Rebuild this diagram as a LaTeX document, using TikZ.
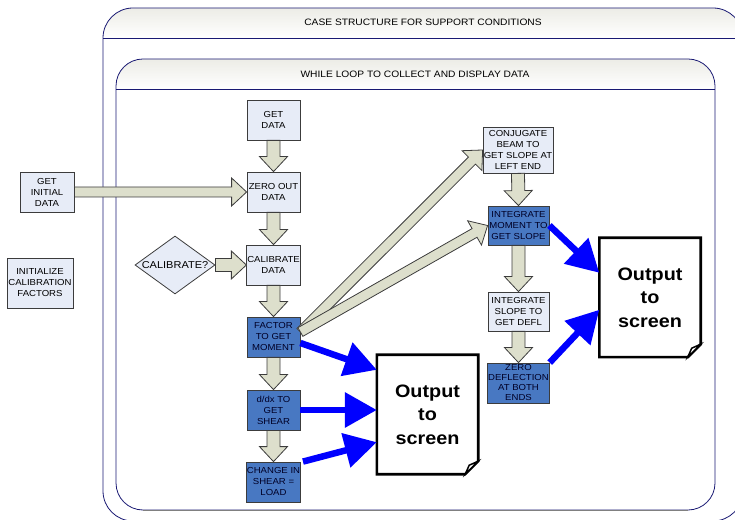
\documentclass[tikz,border=0pt]{standalone}
\usepackage{fontspec}
\setmainfont[FakeStretch=1.1]{Liberation Sans}
\usetikzlibrary{shapes.geometric,arrows.meta,calc}

\definecolor{boxlight}{RGB}{231,236,247}
\definecolor{boxdark}{RGB}{72,120,194}
\definecolor{boxline}{RGB}{60,60,60}
\definecolor{arrowfill}{RGB}{221,223,204}
\definecolor{framenavy}{RGB}{25,25,115}
\definecolor{headgray}{RGB}{236,236,230}

% fat hollow arrow from #2 to #3, #1 = half width of the shaft
\newcommand{\fatarrow}[3][6.5]{%
  \path[fatarrow] let \p1=(#2), \p2=(#3),
    \n1={atan2(\y2-\y1,\x2-\x1)}, \n2={veclen(\x2-\x1,\y2-\y1)} in
    [shift={(\p1)}, rotate=\n1]
    (0,-#1) -- ({\n2-15},-#1) -- ({\n2-15},-14) -- (\n2,0)
    -- ({\n2-15},14) -- ({\n2-15},#1) -- (0,#1) -- cycle;}

\begin{document}
\begin{tikzpicture}[x=1pt,y=1pt,
    lightbox/.style={draw=boxline, fill=boxlight, line width=0.8pt,
      minimum width=53pt, minimum height=40pt, inner sep=0.5pt, align=center,
      font=\fontsize{8.7}{11}\selectfont},
    darkbox/.style={lightbox, fill=boxdark, text=black!85!blue},
    decision/.style={diamond, draw=boxline, fill=boxlight, line width=0.8pt,
      minimum width=80pt, minimum height=58pt, inner sep=0pt},
    screenbox/.style={minimum width=101pt, minimum height=119pt, align=center,
      font=\bfseries\fontsize{18}{23.5}\selectfont},
    screenline/.style={draw=black, line width=2.6pt, line join=miter},
    fatarrow/.style={draw=boxline, fill=arrowfill, line width=0.8pt},
    outarrow/.style={draw=blue, line width=6.5pt, -{Triangle[length=32pt,width=34pt]}},
    frame/.style={draw=framenavy, line width=0.8pt},
    frametitle/.style={font=\fontsize{9.3}{11}\selectfont}]

  \useasboundingbox (0,0) rectangle (735,519);

  % case structure and while loop frames
  \begin{scope}
    \clip (0,0) rectangle (735,519);
    \shade[top color=headgray, bottom color=white] (103,481)
      arc[start angle=180, end angle=90, radius=30] -- (713,511)
      arc[start angle=90, end angle=0, radius=30] -- cycle;
    \draw[frame, rounded corners=30pt] (103,-2) rectangle (743,511);
    \draw[frame] (103,481) -- (743,481);
    \shade[top color=headgray, bottom color=white] (116,430) -- (116,433)
      arc[start angle=180, end angle=90, radius=27] -- (688,460)
      arc[start angle=90, end angle=0, radius=27] -- (715,430) -- cycle;
    \draw[frame, rounded corners=27pt] (116,9) rectangle (715,460);
    \draw[frame] (116,430) -- (715,430);
    \draw[gray, line width=1pt] (143,9) -- (688,9);
  \end{scope}
  \node[frametitle] (casetitle) at (423,497) {CASE STRUCTURE FOR SUPPORT CONDITIONS};
  \node[frametitle] (looptitle) at (415,445) {WHILE LOOP TO COLLECT AND DISPLAY DATA};

  % left column
  \node[lightbox] (getdata) at (273.5,399) {GET\\DATA};
  \node[lightbox] (zeroout) at (273.5,327) {ZERO OUT\\DATA};
  \node[lightbox] (calibrate) at (273.5,254) {CALIBRATE\\DATA};
  \node[darkbox] (moment) at (273.5,182) {FACTOR\\TO GET\\MOMENT};
  \node[darkbox] (shear) at (273.5,109) {d/dx TO\\GET\\SHEAR};
  \node[darkbox] (load) at (273.5,37) {CHANGE IN\\SHEAR =\\LOAD};

  \node[lightbox, minimum width=54pt] (initdata) at (47,327) {GET\\INITIAL\\DATA};
  \node[lightbox, minimum width=66pt, minimum height=50pt] (initcal) at (40,236)
    {INITIALIZE\\CALIBRATION\\FACTORS};
  \node[decision] (calq) at (175,254) {};
  \node[font=\fontsize{10}{11}\selectfont] (calqtext) at (calq) {CALIBRATE?};

  % right column
  \node[lightbox, minimum width=70pt, minimum height=46pt] (conjugate) at (518,369)
    {CONJUGATE\\BEAM TO\\GET SLOPE AT\\LEFT END};
  \node[darkbox, minimum width=61pt, minimum height=39pt] (intmoment) at (518.5,293.5)
    {INTEGRATE\\MOMENT TO\\GET SLOPE};
  \node[lightbox, minimum width=61pt, minimum height=39pt] (intslope) at (518.5,207.5)
    {INTEGRATE\\SLOPE TO\\GET DEFL};
  \node[darkbox, minimum width=61pt, minimum height=40pt,
    font=\fontsize{8.7}{10}\selectfont] (zerodefl) at (518.5,136)
    {ZERO\\DEFLECTION\\AT BOTH\\ENDS};

  % output pages
  \node[screenbox] (screenA) at (650,221.5) {Output\\to\\screen};
  \node[screenbox] (screenB) at (427.5,104.5) {Output\\to\\screen};
  \foreach \s in {screenA,screenB} {
    \draw[screenline] (\s.north west) -- (\s.north east) -- ([yshift=13pt]\s.south east)
      -- ([xshift=-13pt]\s.south east) -- (\s.south west) -- cycle;
    \draw[line width=1.5pt, fill=white] ([xshift=-13pt]\s.south east)
      -- ([yshift=13pt]\s.south east) -- ([xshift=-9pt,yshift=9pt]\s.south east) -- cycle;
  }

  % data flow
  \fatarrow{getdata.south}{zeroout.north}
  \fatarrow{zeroout.south}{calibrate.north}
  \fatarrow{calibrate.south}{moment.north}
  \fatarrow{moment.south}{shear.north}
  \fatarrow{shear.south}{load.north}
  \fatarrow[5]{initdata.east}{zeroout.west}
  \fatarrow{calq.east}{calibrate.west}
  \fatarrow[5]{[yshift=5pt]moment.east}{conjugate.west}
  \fatarrow[5]{[yshift=5pt]moment.east}{intmoment.west}
  \fatarrow{conjugate.south}{intmoment.north}
  \fatarrow{intmoment.south}{intslope.north}
  \fatarrow{intslope.south}{zerodefl.north}

  \draw[outarrow] ([yshift=-6pt]moment.east) -- ([yshift=-15pt]screenB.north west);
  \draw[outarrow] (shear.east) -- (shear.east -| screenB.west);
  \draw[outarrow] ([xshift=2pt]load.north east) -- ([yshift=32pt]screenB.south west);
  \draw[outarrow] (intmoment.east) -- ([yshift=-35pt]screenA.north west);
  \draw[outarrow] (zerodefl.north east) -- ([yshift=-72pt]screenA.north west);
\end{tikzpicture}
\end{document}
